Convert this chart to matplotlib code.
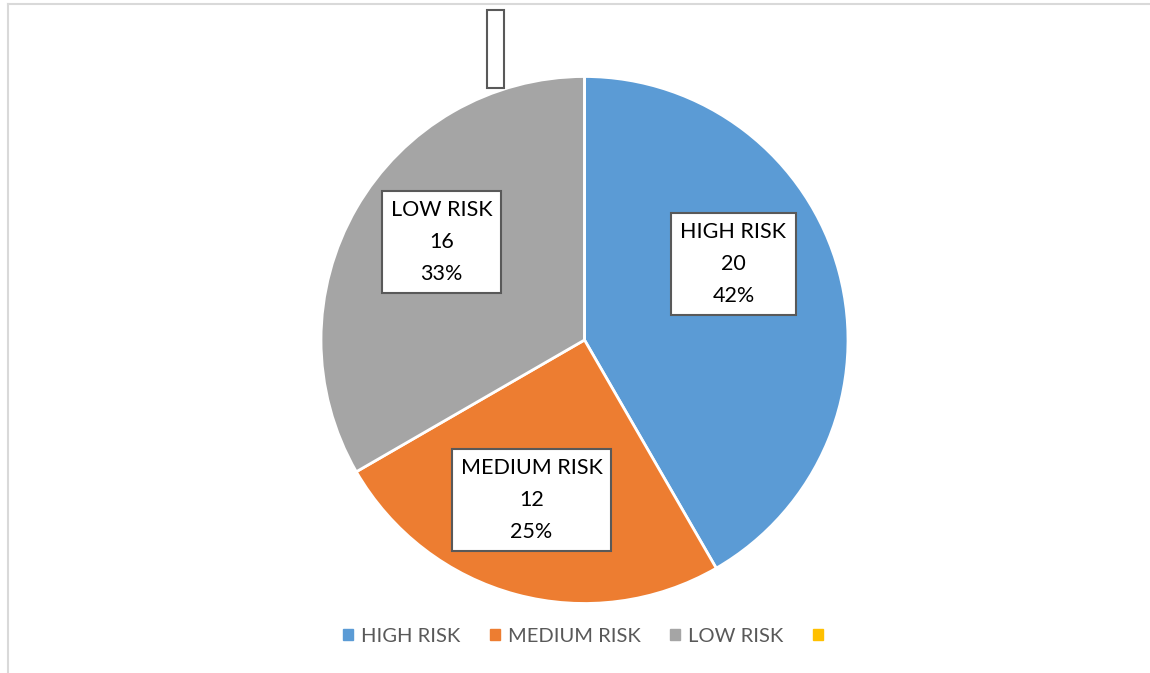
import numpy as np
import matplotlib.pyplot as plt
import matplotlib.patches as ptch

# data
categories = ["HIGH RISK", "MEDIUM RISK", "LOW RISK", ""]
values = [20, 12, 16, 0]
colors = ["#5B9BD5", "#ED7D31", "#A5A5A5", "#FFC000"]

# label box centres (pixels from centre of the pie, y up)
label_offsets = [(149, 76), (-53, -160), (-143, 98), (-89, 291)]

W, H = 1150, 673
plt.rcParams["font.family"] = ["Lato", "DejaVu Sans"]
fig = plt.figure(figsize=(W / 100, H / 100), dpi=100)
ax = fig.add_axes([0, 0, 1, 1])

cx, cy, r = 584.5, H - 340, 263.5
total = sum(values)
wedges, _ = ax.pie(values, colors=colors, startangle=90, counterclock=False,
                   center=(cx, cy), radius=r,
                   wedgeprops=dict(edgecolor="white", linewidth=2))
ax.set_xlim(0, W)
ax.set_ylim(0, H)
ax.set_aspect("equal")
ax.axis("off")

for cat, v, off in zip(categories, values, label_offsets):
    if v > 0:
        txt = "{}\n{}\n{:.0f}%".format(cat, v, 100 * v / total)
        ls, pad = 1.72, 0.42
    else:
        txt = "\n\n"
        ls, pad = 1.02, 0.38
    ax.text(cx + off[0], cy + off[1], txt, ha="center", va="center",
            fontsize=15.5, color="black", linespacing=ls,
            bbox=dict(boxstyle="square,pad=%s" % pad, fc="white", ec="#595959", lw=1.5))

# outer chart border (left and top only are visible)
ax.plot([7.5, 7.5], [0, H - 3.5], color="#d9d9d9", lw=1.5)
ax.plot([7.5, W], [H - 3.5, H - 3.5], color="#d9d9d9", lw=1.5)

handles = [ptch.Patch(color=c) for c in colors]
leg = fig.legend(handles, categories, loc="center", bbox_to_anchor=(587 / W, 1 - 636 / H),
                 ncol=4, frameon=False, fontsize=14.5, handlelength=0.5, handleheight=0.5,
                 handletextpad=0.4, columnspacing=1.45)
for t in leg.get_texts():
    t.set_color("#595959")

plt.savefig("out.png", dpi=100)
